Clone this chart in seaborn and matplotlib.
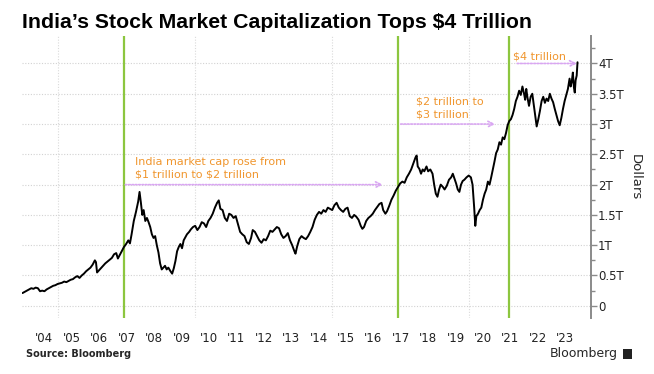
import matplotlib
matplotlib.use("Agg")
import matplotlib.pyplot as plt
import matplotlib.ticker as mticker
from matplotlib.patches import Rectangle
import pandas as pd
import seaborn as sns

# ─── DATA (decimal year / trillion USD) ───────────────────────────────────────
years = [
    2003.70, 2003.78, 2003.86, 2003.94, 2004.02, 2004.10, 2004.18, 2004.26, 2004.34, 2004.42,
    2004.50, 2004.58, 2004.66, 2004.74, 2004.82, 2004.90, 2004.98, 2005.06, 2005.14, 2005.22,
    2005.30, 2005.38, 2005.46, 2005.54, 2005.62, 2005.70, 2005.78, 2005.86, 2005.94, 2006.02,
    2006.10, 2006.18, 2006.26, 2006.34, 2006.38, 2006.42, 2006.48, 2006.56, 2006.64, 2006.72,
    2006.80, 2006.88, 2006.96, 2007.04, 2007.12, 2007.18, 2007.24, 2007.32, 2007.40, 2007.48,
    2007.56, 2007.62, 2007.68, 2007.76, 2007.84, 2007.92, 2007.97, 2008.02, 2008.07, 2008.12,
    2008.18, 2008.24, 2008.30, 2008.36, 2008.42, 2008.48, 2008.54, 2008.60, 2008.66, 2008.72,
    2008.78, 2008.84, 2008.90, 2008.96, 2009.02, 2009.10, 2009.16, 2009.22, 2009.28, 2009.34,
    2009.40, 2009.46, 2009.52, 2009.58, 2009.64, 2009.70, 2009.78, 2009.84, 2009.92, 2010.00,
    2010.08, 2010.16, 2010.24, 2010.32, 2010.40, 2010.48, 2010.56, 2010.64, 2010.72, 2010.80,
    2010.86, 2010.92, 2011.00, 2011.08, 2011.16, 2011.24, 2011.32, 2011.40, 2011.48, 2011.56,
    2011.64, 2011.72, 2011.80, 2011.88, 2011.96, 2012.04, 2012.10, 2012.18, 2012.26, 2012.34,
    2012.42, 2012.50, 2012.58, 2012.66, 2012.74, 2012.82, 2012.90, 2012.98, 2013.06, 2013.14,
    2013.22, 2013.30, 2013.38, 2013.46, 2013.54, 2013.62, 2013.66, 2013.72, 2013.80, 2013.88,
    2013.96, 2014.04, 2014.12, 2014.20, 2014.28, 2014.36, 2014.44, 2014.52, 2014.60, 2014.68,
    2014.76, 2014.84, 2014.92, 2015.00, 2015.08, 2015.16, 2015.24, 2015.32, 2015.40, 2015.48,
    2015.56, 2015.64, 2015.72, 2015.80, 2015.88, 2015.96, 2016.04, 2016.10, 2016.16, 2016.24,
    2016.32, 2016.40, 2016.48, 2016.56, 2016.64, 2016.72, 2016.80, 2016.86, 2016.94, 2017.00,
    2017.08, 2017.16, 2017.24, 2017.32, 2017.40, 2017.48, 2017.56, 2017.64, 2017.72, 2017.80,
    2017.88, 2017.96, 2018.04, 2018.08, 2018.12, 2018.18, 2018.24, 2018.30, 2018.36, 2018.44,
    2018.50, 2018.58, 2018.66, 2018.72, 2018.78, 2018.84, 2018.90, 2018.96, 2019.04, 2019.10,
    2019.18, 2019.26, 2019.34, 2019.40, 2019.46, 2019.52, 2019.58, 2019.64, 2019.70, 2019.76,
    2019.82, 2019.90, 2019.98, 2020.06, 2020.12, 2020.18, 2020.22, 2020.26, 2020.32, 2020.38,
    2020.44, 2020.50, 2020.56, 2020.62, 2020.68, 2020.74, 2020.80, 2020.86, 2020.92, 2020.98,
    2021.04, 2021.10, 2021.16, 2021.22, 2021.28, 2021.34, 2021.40, 2021.46, 2021.52, 2021.58,
    2021.64, 2021.70, 2021.76, 2021.82, 2021.88, 2021.94, 2022.00, 2022.04, 2022.08, 2022.12,
    2022.18, 2022.24, 2022.30, 2022.36, 2022.42, 2022.46, 2022.52, 2022.58, 2022.64, 2022.70,
    2022.76, 2022.82, 2022.88, 2022.94, 2023.00, 2023.06, 2023.12, 2023.18, 2023.24, 2023.30,
    2023.36, 2023.42, 2023.48, 2023.54, 2023.60, 2023.66, 2023.70, 2023.74, 2023.78, 2023.82,
    2023.85, 2023.88, 2023.92, 2023.95,
]
market_cap = [
    0.21, 0.23, 0.25, 0.27, 0.29, 0.28, 0.30, 0.29, 0.24, 0.25,
    0.24, 0.27, 0.29, 0.31, 0.33, 0.34, 0.36, 0.37, 0.38, 0.40,
    0.39, 0.41, 0.43, 0.44, 0.47, 0.49, 0.46, 0.50, 0.53, 0.57,
    0.60, 0.63, 0.68, 0.75, 0.72, 0.55, 0.58, 0.62, 0.66, 0.70,
    0.73, 0.76, 0.79, 0.85, 0.87, 0.78, 0.83, 0.90, 0.97, 1.02,
    1.08, 1.03, 1.18, 1.40, 1.55, 1.72, 1.88, 1.70, 1.50, 1.58,
    1.40, 1.45, 1.38, 1.30, 1.18, 1.12, 1.15, 1.00, 0.88, 0.70,
    0.60, 0.63, 0.66, 0.60, 0.63, 0.57, 0.53, 0.62, 0.74, 0.90,
    0.97, 1.02, 0.95, 1.08, 1.13, 1.18, 1.22, 1.26, 1.30, 1.32,
    1.25, 1.30, 1.38, 1.36, 1.30, 1.40, 1.45, 1.52, 1.62, 1.70,
    1.74, 1.60, 1.58, 1.45, 1.40, 1.52, 1.50, 1.45, 1.48, 1.35,
    1.22, 1.18, 1.15, 1.05, 1.02, 1.12, 1.25, 1.22, 1.15, 1.08,
    1.04, 1.10, 1.08, 1.15, 1.24, 1.22, 1.26, 1.30, 1.28, 1.18,
    1.12, 1.15, 1.20, 1.08, 1.00, 0.90, 0.86, 0.98, 1.10, 1.15,
    1.12, 1.10, 1.15, 1.22, 1.30, 1.42, 1.50, 1.55, 1.52, 1.58,
    1.55, 1.62, 1.60, 1.58, 1.66, 1.70, 1.62, 1.58, 1.55, 1.60,
    1.62, 1.48, 1.45, 1.50, 1.47, 1.42, 1.32, 1.27, 1.30, 1.40,
    1.45, 1.48, 1.52, 1.58, 1.63, 1.68, 1.70, 1.58, 1.52, 1.56,
    1.65, 1.75, 1.82, 1.90, 1.96, 2.02, 2.05, 2.03, 2.12, 2.18,
    2.25, 2.35, 2.45, 2.48, 2.30, 2.26, 2.18, 2.25, 2.22, 2.30,
    2.22, 2.25, 2.18, 2.00, 1.85, 1.80, 1.92, 2.00, 1.96, 1.92,
    1.98, 2.08, 2.12, 2.18, 2.10, 2.02, 1.92, 1.88, 2.00, 2.06,
    2.08, 2.12, 2.15, 2.12, 2.00, 1.62, 1.32, 1.48, 1.52, 1.58,
    1.62, 1.75, 1.85, 1.92, 2.05, 2.00, 2.12, 2.25, 2.38, 2.52,
    2.58, 2.70, 2.66, 2.78, 2.75, 2.85, 2.98, 3.05, 3.08, 3.15,
    3.25, 3.38, 3.45, 3.55, 3.48, 3.62, 3.50, 3.40, 3.58, 3.45,
    3.30, 3.45, 3.50, 3.30, 3.10, 2.96, 3.08, 3.22, 3.38, 3.45,
    3.35, 3.42, 3.38, 3.50, 3.42, 3.36, 3.25, 3.15, 3.05, 2.98,
    3.10, 3.25, 3.38, 3.48, 3.58, 3.75, 3.62, 3.70, 3.85, 3.60,
    3.52, 3.72, 3.80, 4.02,
]

# milestone dates ($1T, $2T, $3T crossed) and arrows
milestones = [2007.41, 2017.41, 2021.46]
arrow_spans = [(2007.45, 2016.85, 2.0), (2017.5, 2020.95, 3.0), (2021.75, 2023.93, 4.0)]
arrow_texts = ["India market cap rose from\n\\$1 trillion to \\$2 trillion",
               "\\$2 trillion to\n\\$3 trillion", "\\$4 trillion"]
arrow_text_pos = [(2007.8, 2.08), (2018.05, 3.08), (2021.6, 4.04)]

year_labels = ["'%02d" % (y % 100) for y in range(2004, 2024)]
ytick_vals = [0, 0.5, 1, 1.5, 2, 2.5, 3, 3.5, 4]
ytick_labels = ["0", "0.5T", "1T", "1.5T", "2T", "2.5T", "3T", "3.5T", "4T"]

df = pd.DataFrame({"year": years, "cap": market_cap})

# ─── STYLE ────────────────────────────────────────────────────────────────────
sns.set_style("white")
plt.rcParams["font.family"] = ["DejaVu Sans"]

ORANGE = "#F0962E"
PINK = "#D9A6F2"
GREEN = "#8CC63F"
GRAY = "#8A8A8A"

fig = plt.figure(figsize=(6.54, 3.74), dpi=100)
ax = fig.add_axes([0.034, 0.15, 0.87, 0.754])

sns.lineplot(data=df, x="year", y="cap", ax=ax, color="black", lw=1.4)

for m in milestones:
    ax.axvline(m, color=GREEN, lw=1.6, zorder=1)

for (x0, x1, yv), txt, (tx, ty) in zip(arrow_spans, arrow_texts, arrow_text_pos):
    ax.annotate("", xy=(x1, yv), xytext=(x0, yv),
                arrowprops=dict(arrowstyle="->", color=PINK, lw=1.2, ls=(0, (1, 1)),
                                shrinkA=0, shrinkB=0))
    ax.text(tx, ty, txt, color=ORANGE, fontsize=8, va="bottom", ha="left", linespacing=1.35)

ax.set_xlim(2003.69, 2024.45)
ax.set_ylim(-0.2, 4.455)

# x axis: grid every 5 years, labels centred on each year
ax.set_xticks([2005, 2010, 2015, 2020])
ax.set_xticklabels([])
ax.set_xticks([y + 0.5 for y in range(2004, 2024)], labels=year_labels, minor=True)
ax.tick_params(axis="x", which="both", length=0, pad=10, labelsize=8.5, colors="#222")
ax.grid(axis="x", which="major", color="#dadada", ls=(0, (1, 1.5)), lw=0.8)

# y axis on the right
ax.yaxis.tick_right()
ax.yaxis.set_label_position("right")
ax.set_yticks(ytick_vals, labels=ytick_labels)
ax.yaxis.set_minor_locator(mticker.MultipleLocator(0.25))
ax.tick_params(axis="y", which="major", direction="out", length=4, width=1,
               color=GRAY, labelsize=8.5, pad=1, labelcolor="#222")
ax.tick_params(axis="y", which="minor", direction="out", length=3, width=1, color=GRAY)
ax.grid(axis="y", which="major", color="#d2d2d2", ls=(0, (1, 1.5)), lw=0.8)
ax.set_ylabel("Dollars", rotation=270, labelpad=13, fontsize=9.5)
ax.set_xlabel("")

for s in ["left", "top", "bottom"]:
    ax.spines[s].set_visible(False)
ax.spines["right"].set_color(GRAY)
ax.spines["right"].set_linewidth(1.4)

# titles and footer
fig.text(0.034, 0.94, "India\u2019s Stock Market Capitalization Tops \\$4 Trillion",
         fontsize=15.3, fontweight="bold", ha="left", va="center", color="black",
         family=["Liberation Sans", "DejaVu Sans"])
fig.text(0.04, 0.054, "Source: Bloomberg", fontsize=7, fontweight="bold", ha="left", va="center")
fig.text(0.945, 0.054, "Bloomberg", fontsize=9, ha="right", va="center")
fig.patches.append(Rectangle((0.952, 0.041), 0.014, 0.026, transform=fig.transFigure,
                             facecolor="#222", edgecolor="none"))

fig.savefig("out.png", dpi=100)
